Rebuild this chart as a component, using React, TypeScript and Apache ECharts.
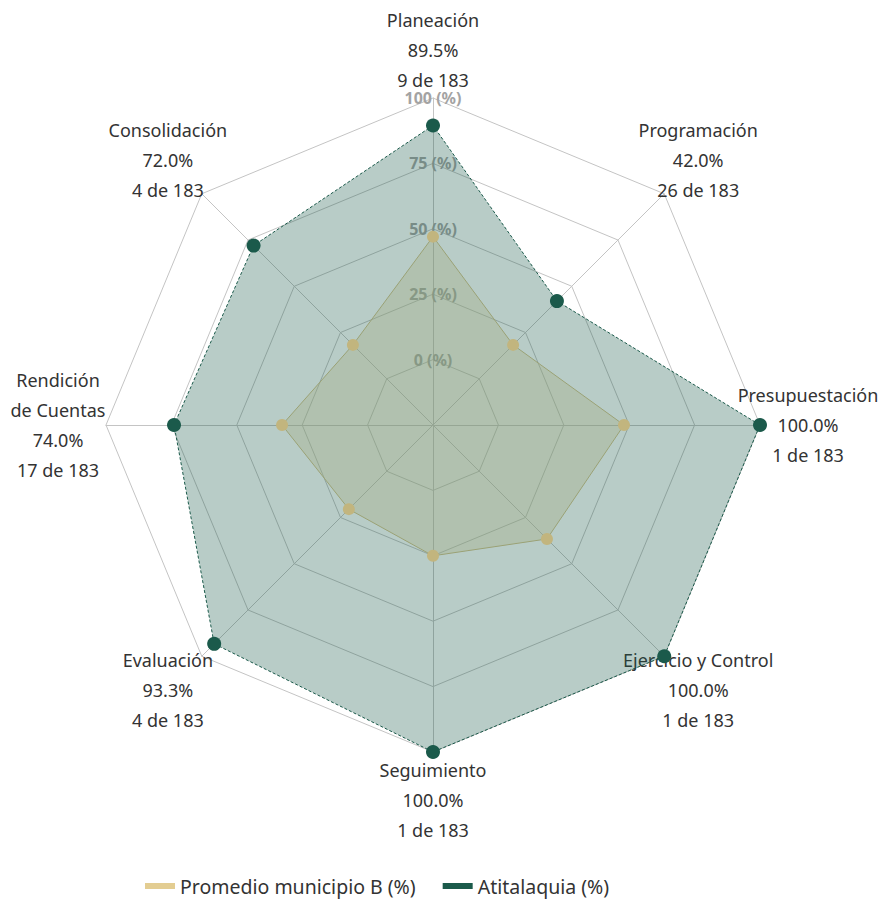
import React, { useEffect, useRef } from "react";
import * as echarts from "echarts";

const indicatorNames = [
  "Planeación",
  "Consolidación",
  "Rendición\nde Cuentas",
  "Evaluación",
  "Seguimiento",
  "Ejercicio y Control",
  "Presupuestación",
  "Programación",
];
const atitalaquiaValues = [89.5, 72.0, 74.0, 93.3, 100.0, 100.0, 100.0, 42.0];
const atitalaquiaRanks = [9, 4, 17, 4, 1, 1, 1, 26];
const promedioValues = [47, 18.3, 32.7, 20.5, 25, 36.6, 48, 18.3];
const totalMunicipios = 183;
const seriesNames = ["Promedio municipio B (%)", "Atitalaquia (%)"];
const axisMin = -25;
const axisMax = 100;

export default function App() {
  const ref = useRef<HTMLDivElement>(null);
  useEffect(() => {
    document.body.style.margin = "0";
    const chart = echarts.init(ref.current!, null, { renderer: "svg" });
    const font = "'Noto Sans', 'Open Sans', sans-serif";
    chart.setOption({
      animation: false,
      textStyle: { fontFamily: font },
      legend: {
        data: [
          { name: seriesNames[0], itemStyle: { color: "#e3cd92" } },
          { name: seriesNames[1], itemStyle: { color: "#1b5a4b" } },
        ],
        left: 140,
        top: 871,
        icon: "rect",
        itemWidth: 30,
        itemHeight: 6,
        itemGap: 27,
        textStyle: { fontSize: 19.5, color: "#333", fontFamily: font },
      },
      radar: {
        center: [433, 425],
        radius: 327,
        shape: "polygon",
        splitNumber: 5,
        nameGap: 48,
        axisName: {
          color: "#333",
          fontSize: 18,
          lineHeight: 30,
          align: "center",
          verticalAlign: "middle",
          fontFamily: font,
          rich: {
            top: {
              color: "#333",
              fontSize: 18,
              lineHeight: 30,
              fontFamily: font,
              padding: [10, 0, 0, 0],
            },
          },
          formatter: (name: string) => {
            const i = indicatorNames.indexOf(name);
            const lines = [
              name,
              atitalaquiaValues[i].toFixed(1) + "%",
              atitalaquiaRanks[i] + " de " + totalMunicipios,
            ];
            return i === 0
              ? lines.map((l) => "{top|" + l + "}").join("\n")
              : lines.join("\n");
          },
        },
        indicator: indicatorNames.map((n, i) =>
          i === 0
            ? {
                name: n,
                min: axisMin,
                max: axisMax,
                axisLabel: {
                  show: true,
                  margin: 0,
                  align: "center",
                  verticalAlign: "middle",
                  color: "#a3a3a3",
                  fontWeight: "bold",
                  fontSize: 16,
                  fontFamily: font,
                  formatter: (v: number) => (v < 0 ? "" : v + " (%)"),
                },
              }
            : { name: n, min: axisMin, max: axisMax }
        ),
        splitLine: { lineStyle: { color: "#c4c4c4", width: 1 } },
        axisLine: { lineStyle: { color: "#c4c4c4", width: 1 } },
        splitArea: { show: false },
      },
      series: [
        {
          type: "radar",
          z: 5,
          data: [
            {
              name: seriesNames[0],
              value: promedioValues,
              symbol: "circle",
              symbolSize: 12,
              itemStyle: { color: "#c2b57e" },
              lineStyle: { color: "#d2be86", width: 1 },
              areaStyle: { color: "#e3d39a", opacity: 0.35 },
            },
            {
              name: seriesNames[1],
              value: atitalaquiaValues,
              symbol: "circle",
              symbolSize: 14,
              itemStyle: { color: "#1b5a4b" },
              lineStyle: { color: "#1b5a4b", width: 1, type: [3, 2] },
              areaStyle: { color: "#1b5a4b", opacity: 0.31 },
            },
          ],
        },
      ],
    });
    return () => chart.dispose();
  }, []);
  return <div ref={ref} style={{ width: 881, height: 899 }} />;
}
